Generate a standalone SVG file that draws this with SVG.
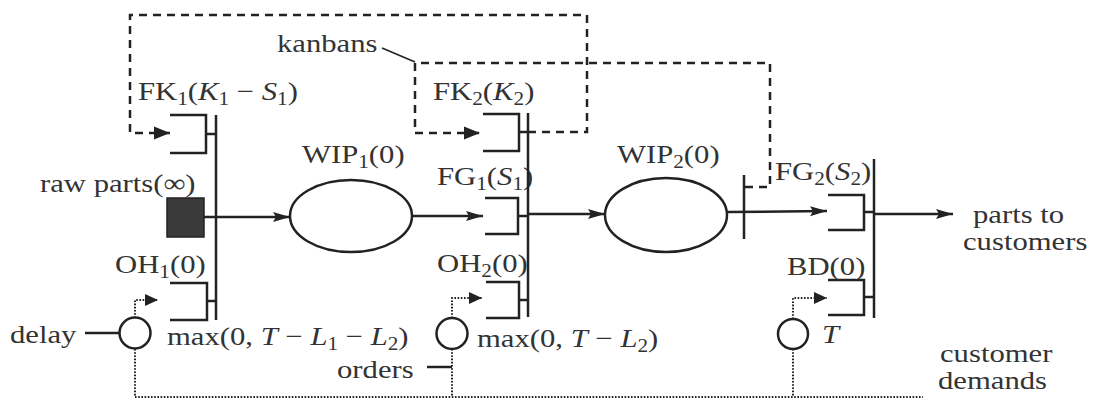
<svg xmlns="http://www.w3.org/2000/svg" width="1095" height="416" viewBox="0 0 1095 416">
<style>
text{font-family:"Liberation Serif","Times New Roman",serif;font-size:26px;fill:#333}
.s{font-size:18px}
.i{font-style:italic}
.ln{stroke:#222;stroke-width:2.5;fill:none}
.thin{stroke:#222;stroke-width:1.6;fill:none}
.dash{stroke:#222;stroke-width:2.5;fill:none;stroke-dasharray:8 6}
.dot{stroke:#222;stroke-width:2;fill:none;stroke-dasharray:1.6 1.6}
.q{stroke:#222;stroke-width:2.5;fill:none}
</style>
<defs>
<marker id="af" markerUnits="userSpaceOnUse" markerWidth="20" markerHeight="14" refX="17" refY="7" orient="auto"><path d="M0,2 L17,7 L0,12 L3,7 Z" fill="#222"/></marker>
<marker id="ad" markerUnits="userSpaceOnUse" markerWidth="20" markerHeight="16" refX="16" refY="8" orient="auto"><path d="M0,1.5 L16,8 L0,14.5 Z" fill="#222"/></marker>
<marker id="ao" markerUnits="userSpaceOnUse" markerWidth="16" markerHeight="14" refX="13" refY="7" orient="auto"><path d="M0,1 L13,7 L0,13 Z" fill="#222"/></marker>
</defs>
<rect width="1095" height="416" fill="#fff"/>

<g id="connectors">
<line class="ln" x1="204" y1="217" x2="290" y2="217" marker-end="url(#af)"/>
<line class="ln" x1="412" y1="216" x2="483" y2="216" marker-end="url(#af)"/>
<line class="ln" x1="528" y1="214" x2="605" y2="214" marker-end="url(#af)"/>
<line class="ln" x1="727" y1="212" x2="827" y2="211" marker-end="url(#af)"/>
<line class="ln" x1="874" y1="214" x2="953" y2="214" marker-end="url(#af)"/>
<line class="ln" x1="206" y1="134" x2="216" y2="134"/>
<line class="ln" x1="207" y1="301" x2="216" y2="301"/>
<line class="ln" x1="518" y1="216" x2="528" y2="216"/>
<line class="ln" x1="519" y1="132" x2="528" y2="132"/>
<line class="ln" x1="519" y1="300" x2="528" y2="300"/>
<line class="ln" x1="864" y1="212" x2="874" y2="212"/>
<line class="ln" x1="864" y1="297" x2="874" y2="297"/>
<path class="dash" d="M528,132 H587 V15 H130 V133 H170" marker-end="url(#ad)"/>
<path class="dash" d="M745,187 H770 V63 H415 V133 H480" marker-end="url(#ad)"/>
<path class="dot" d="M135,318 V300 H158" marker-end="url(#ao)"/>
<path class="dot" d="M452,318 V298 H482" marker-end="url(#ao)"/>
<path class="dot" d="M793,319 V298 H827" marker-end="url(#ao)"/>
<path class="dot" d="M135,349 V397 H923"/>
<path class="dot" d="M452,349 V397"/>
<path class="dot" d="M793,349 V397"/>
<line class="thin" x1="382" y1="48" x2="415" y2="62"/>
<line class="ln" x1="85" y1="333" x2="120" y2="333"/>
<line class="ln" x1="427" y1="367" x2="452" y2="367"/>
</g>

<g id="raw-parts">
<rect x="167" y="198" width="37" height="39" fill="#3a3a3a" stroke="#222" stroke-width="1.5"/>
<text transform="translate(40,192) scale(1.18,1)">raw parts(∞)</text>
</g>
<g id="FK1">
<path class="q" d="M170,115 H206 V153 H170"/>
<text transform="translate(138,100) scale(1.18,1)">FK<tspan class="s" dy="5">1</tspan><tspan dy="-5">(</tspan><tspan class="i">K</tspan><tspan class="s" dy="5">1</tspan><tspan dy="-5"> − </tspan><tspan class="i">S</tspan><tspan class="s" dy="5">1</tspan><tspan dy="-5">)</tspan></text>
</g>
<g id="OH1">
<path class="q" d="M170,283 H207 V320 H170"/>
<text transform="translate(115,273) scale(1.18,1)">OH<tspan class="s" dy="5">1</tspan><tspan dy="-5">(0)</tspan></text>
</g>
<g id="sync1"><line class="ln" x1="216" y1="115" x2="216" y2="320"/></g>
<g id="delay1">
<circle cx="135" cy="333" r="15.5" fill="#fff" stroke="#222" stroke-width="2.5"/>
<text transform="translate(167,345) scale(1.18,1)">max(0, <tspan class="i">T</tspan> − <tspan class="i">L</tspan><tspan class="s" dy="5">1</tspan><tspan dy="-5"> − </tspan><tspan class="i">L</tspan><tspan class="s" dy="5">2</tspan><tspan dy="-5">)</tspan></text>
</g>
<g id="WIP1">
<ellipse cx="351" cy="216" rx="61" ry="36" class="q"/>
<text transform="translate(302,163) scale(1.18,1)">WIP<tspan class="s" dy="5">1</tspan><tspan dy="-5">(0)</tspan></text>
</g>
<g id="FK2">
<path class="q" d="M483,114 H519 V151 H483"/>
<text transform="translate(433,100) scale(1.18,1)">FK<tspan class="s" dy="5">2</tspan><tspan dy="-5">(</tspan><tspan class="i">K</tspan><tspan class="s" dy="5">2</tspan><tspan dy="-5">)</tspan></text>
</g>
<g id="FG1">
<path class="q" d="M485,198 H518 V234 H485"/>
<text transform="translate(437,185) scale(1.18,1)">FG<tspan class="s" dy="5">1</tspan><tspan dy="-5">(</tspan><tspan class="i">S</tspan><tspan class="s" dy="5">1</tspan><tspan dy="-5">)</tspan></text>
</g>
<g id="OH2">
<path class="q" d="M486,282 H519 V318 H486"/>
<text transform="translate(437,272) scale(1.18,1)">OH<tspan class="s" dy="5">2</tspan><tspan dy="-5">(0)</tspan></text>
</g>
<g id="sync2"><line class="ln" x1="528" y1="113" x2="528" y2="317"/></g>
<g id="delay2">
<circle cx="452" cy="333.5" r="15.5" fill="#fff" stroke="#222" stroke-width="2.5"/>
<text transform="translate(477,347) scale(1.18,1)">max(0, <tspan class="i">T</tspan> − <tspan class="i">L</tspan><tspan class="s" dy="5">2</tspan><tspan dy="-5">)</tspan></text>
</g>
<g id="WIP2">
<ellipse cx="666" cy="215" rx="61" ry="37" class="q"/>
<text transform="translate(617,163) scale(1.18,1)">WIP<tspan class="s" dy="5">2</tspan><tspan dy="-5">(0)</tspan></text>
</g>
<g id="split"><line class="ln" x1="744" y1="175" x2="744" y2="239"/></g>
<g id="FG2">
<path class="q" d="M828,195 H864 V230 H828"/>
<text transform="translate(775,180) scale(1.18,1)">FG<tspan class="s" dy="5">2</tspan><tspan dy="-5">(</tspan><tspan class="i">S</tspan><tspan class="s" dy="5">2</tspan><tspan dy="-5">)</tspan></text>
</g>
<g id="BD">
<path class="q" d="M828,280 H864 V315 H828"/>
<text transform="translate(787,275) scale(1.18,1)">BD(0)</text>
</g>
<g id="sync3"><line class="ln" x1="874" y1="159" x2="874" y2="318"/></g>
<g id="delay3">
<circle cx="793" cy="334" r="15" fill="#fff" stroke="#222" stroke-width="2.5"/>
<text class="i" transform="translate(822,343) scale(1.18,1)">T</text>
</g>
<g id="labels">
<text transform="translate(277,52) scale(1.18,1)">kanbans</text>
<text transform="translate(10,343) scale(1.18,1)">delay</text>
<text transform="translate(337,378) scale(1.18,1)">orders</text>
<text transform="translate(973,223) scale(1.18,1)">parts to</text>
<text transform="translate(963,250) scale(1.18,1)">customers</text>
<text transform="translate(940,362) scale(1.18,1)">customer</text>
<text transform="translate(938,389) scale(1.18,1)">demands</text>
</g>
</svg>
